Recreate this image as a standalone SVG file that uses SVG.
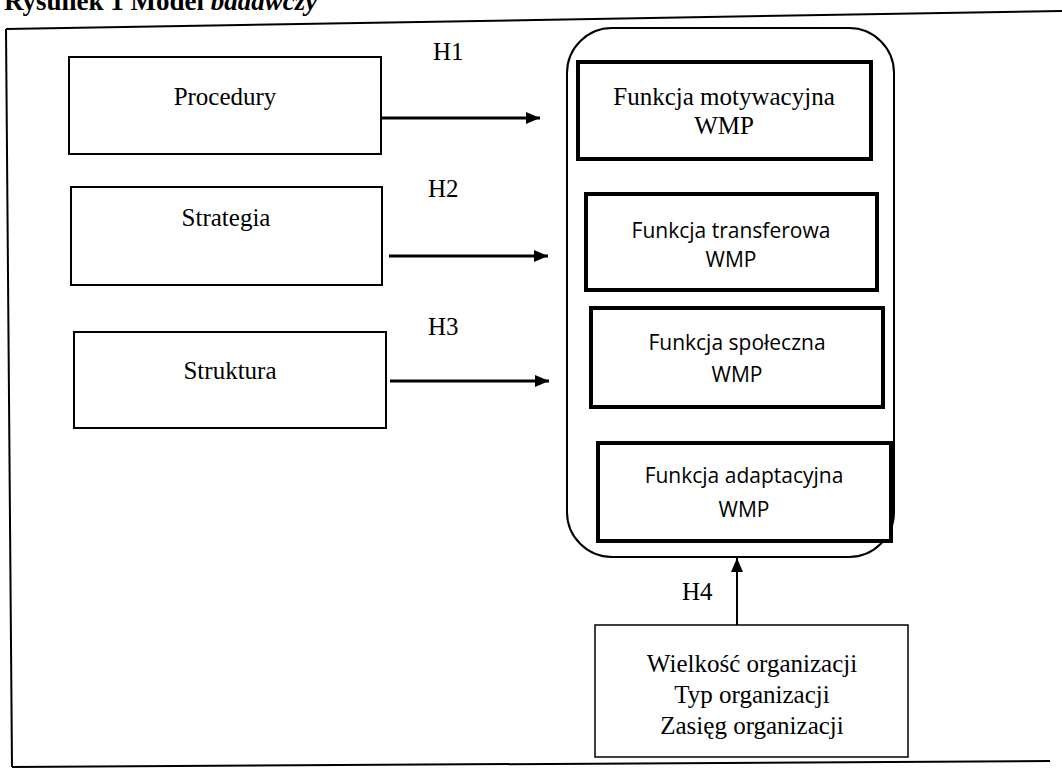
<svg xmlns="http://www.w3.org/2000/svg" width="1062" height="769" viewBox="0 0 1062 769">
  <defs>
    <marker id="ah" viewBox="0 0 14 12" refX="14" refY="6" markerWidth="14" markerHeight="12" markerUnits="userSpaceOnUse" orient="auto">
      <path d="M0,0 L14,6 L0,12 z" fill="#000"/>
    </marker>
    <style>
      .serif { font-family: "Liberation Serif", "Times New Roman", serif; fill: #000; }
      .sans { font-family: "Open Sans", "Liberation Sans", sans-serif; fill: #000; }
      .box { fill: #fff; stroke: #000; stroke-width: 2; }
      .fbox { fill: #fff; stroke: #000; stroke-width: 4; }
      .conn { stroke: #000; stroke-width: 3; fill: none; }
      .t { font-size: 25px; text-anchor: middle; }
      .s { font-size: 21px; text-anchor: middle; }
    </style>
  </defs>
  <rect width="1062" height="769" fill="#fff"/>

  <!-- title (cut off at top) -->
  <text class="serif" x="4" y="10" font-size="27" font-weight="bold">Rysunek 1 Model <tspan font-style="italic">badawczy</tspan></text>

  <!-- outer frame -->
  <g id="frame" fill="none" stroke="#000" stroke-width="2">
    <path d="M6,29 L1062,11"/>
    <path d="M6,29 L12,767"/>
    <path d="M12,767 L1050,761"/>
  </g>

  <!-- container -->
  <g id="container">
    <rect x="567" y="28" width="327" height="529" rx="45" ry="45" fill="none" stroke="#000" stroke-width="2"/>
  </g>

  <g id="procedury">
    <rect class="box" x="69" y="57" width="312" height="97"/>
    <text class="serif t" x="225" y="105">Procedury</text>
  </g>
  <g id="strategia">
    <rect class="box" x="71" y="187" width="311" height="98"/>
    <text class="serif t" x="226" y="226">Strategia</text>
  </g>
  <g id="struktura">
    <rect class="box" x="74" y="332" width="312" height="96"/>
    <text class="serif t" x="230" y="379">Struktura</text>
  </g>

  <g id="f-motywacyjna">
    <rect class="fbox" x="578" y="62" width="293" height="97"/>
    <text class="serif t" x="724" y="105">Funkcja motywacyjna</text>
    <text class="serif t" x="724" y="134">WMP</text>
  </g>
  <g id="f-transferowa">
    <rect class="fbox" x="586" y="194" width="291" height="96"/>
    <text class="sans s" x="731" y="238">Funkcja transferowa</text>
    <text class="sans s" x="731" y="267">WMP</text>
  </g>
  <g id="f-spoleczna">
    <rect class="fbox" x="591" y="308" width="292" height="99"/>
    <text class="sans s" x="737" y="350">Funkcja społeczna</text>
    <text class="sans s" x="737" y="382">WMP</text>
  </g>
  <g id="f-adaptacyjna">
    <rect class="fbox" x="598" y="443" width="293" height="98"/>
    <text class="sans s" x="744" y="483">Funkcja adaptacyjna</text>
    <text class="sans s" x="744" y="517">WMP</text>
  </g>

  <g id="czynniki">
    <rect x="595" y="625" width="313" height="132" fill="#fff" stroke="#000" stroke-width="1.5"/>
    <text class="serif t" x="752" y="672">Wielkość organizacji</text>
    <text class="serif t" x="752" y="703">Typ organizacji</text>
    <text class="serif t" x="752" y="734">Zasięg organizacji</text>
  </g>

  <g id="connectors">
    <line class="conn" x1="381" y1="118" x2="540" y2="118" marker-end="url(#ah)"/>
    <line class="conn" x1="389" y1="256" x2="548" y2="256" marker-end="url(#ah)"/>
    <line class="conn" x1="390" y1="381" x2="549" y2="381" marker-end="url(#ah)"/>
    <line x1="737" y1="625" x2="737" y2="558" stroke="#000" stroke-width="2" marker-end="url(#ah)"/>
    <text class="serif" x="433" y="60" font-size="25">H1</text>
    <text class="serif" x="428" y="197" font-size="25">H2</text>
    <text class="serif" x="428" y="335" font-size="25">H3</text>
    <text class="serif" x="682" y="600" font-size="25">H4</text>
  </g>
</svg>
